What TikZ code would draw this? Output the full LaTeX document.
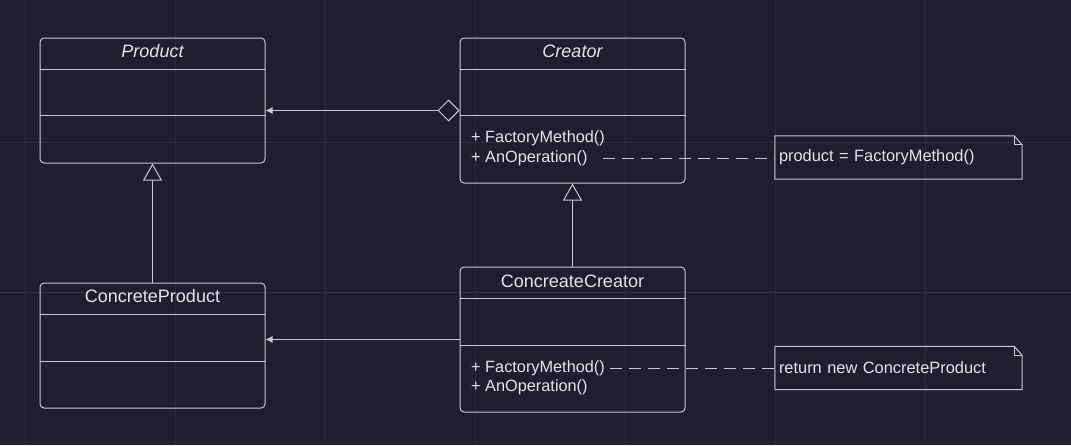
\documentclass[tikz,border=0pt]{standalone}
\usepackage{fontspec}
\setmainfont{Liberation Sans}
\usetikzlibrary{arrows.meta}
\definecolor{bgcol}{RGB}{30,30,46}
\definecolor{gridcol}{RGB}{44,44,58}
\definecolor{linecol}{RGB}{200,200,205}
\definecolor{txtcol}{RGB}{228,228,232}
\tikzset{>=Latex}
\tikzset{classbox/.style = {draw=linecol, line width=1pt, rounded corners=4pt, minimum width=225pt, inner sep=0pt},
         classname/.style = {text=txtcol, font=\fontsize{18}{21}\selectfont, inner sep=0pt},
         member/.style = {text=txtcol, font=\fontsize{16.3}{19}\selectfont, inner sep=0pt, anchor=west},
         notebox/.style = {text=txtcol, font=\fontsize{16.4}{19}\selectfont, minimum width=247pt, minimum height=43pt, text width=239pt, inner xsep=4pt, align=left},
         conn/.style = {draw=linecol, line width=1pt},
         noteline/.style = {draw=linecol, line width=1pt, dash pattern=on 12pt off 7pt}}

\begin{document}
\begin{tikzpicture}[x=1pt,y=-1pt]
                    \fill[bgcol] (0,0) rectangle (1071,445);
                    \useasboundingbox (0,0) rectangle (1071,445);
                    \foreach \x in {25,175,...,1075} \draw[gridcol] (\x,0) -- (\x,445);
                    \foreach \y in {142,292,442} \draw[gridcol] (0,\y) -- (1071,\y);

                    % classes
                    \node[classbox, minimum height=125pt] (P) at (152.5,100.5) {};
                    \node[classbox, minimum height=145pt] (C) at (572.5,110.5) {};
                    \node[classbox, minimum height=125pt] (CP) at (152.5,345.5) {};
                    \node[classbox, minimum height=145pt] (CC) at (572.5,339.5) {};

                    \node[classname] at ([yshift=-14pt]P.north) {\itshape Product};
                    \node[classname] at ([yshift=-14pt]C.north) {\itshape Creator};
                    \node[classname] at ([yshift=-14pt]CP.north) {ConcreteProduct};
                    \node[classname] at ([yshift=-15pt]CC.north) {ConcreateCreator};

                    \draw[conn] ([yshift=-32pt]P.north west) -- ([yshift=-32pt]P.north east);
                    \draw[conn] ([yshift=-78pt]P.north west) -- ([yshift=-78pt]P.north east);
                    \draw[conn] ([yshift=-32pt]C.north west) -- ([yshift=-32pt]C.north east);
                    \draw[conn] ([yshift=-78pt]C.north west) -- ([yshift=-78pt]C.north east);
                    \draw[conn] ([yshift=-32pt]CP.north west) -- ([yshift=-32pt]CP.north east);
                    \draw[conn] ([yshift=-79pt]CP.north west) -- ([yshift=-79pt]CP.north east);
                    \draw[conn] ([yshift=-32pt]CC.north west) -- ([yshift=-32pt]CC.north east);
                    \draw[conn] ([yshift=-79pt]CC.north west) -- ([yshift=-79pt]CC.north east);

                    \node[member] (cfm) at (471,138) {+ FactoryMethod()};
                    \node[member] (cao) at (471,158) {+ AnOperation()};
                    \node[member] (ccfm) at (471,368) {+ FactoryMethod()};
                    \node[member] (ccao) at (471,387) {+ AnOperation()};

                    % notes
                    \node[notebox] (n1) at (898.5,157.5) {product = FactoryMethod()};
                    \node[notebox] (n2) at (898.5,368) {return new ConcreteProduct};
                    \draw[conn] (n1.south west) -- (n1.north west) -- ([xshift=-8pt]n1.north east)
                                -- ([yshift=-9pt]n1.north east) -- (n1.south east) -- cycle;
                    \draw[conn] ([xshift=-8pt]n1.north east) -- ([xshift=-8pt,yshift=-9pt]n1.north east) -- ([yshift=-9pt]n1.north east);
                    \draw[conn] (n2.south west) -- (n2.north west) -- ([xshift=-8pt]n2.north east)
                                -- ([yshift=-9pt]n2.north east) -- (n2.south east) -- cycle;
                    \draw[conn] ([xshift=-8pt]n2.north east) -- ([xshift=-8pt,yshift=-9pt]n2.north east) -- ([yshift=-9pt]n2.north east);

                    % relations
                    \draw[conn, {Diamond[open,length=22pt,width=22pt]}-{Latex[length=7pt,width=7pt]}] (C.west) -- (C.west -| P.east);
                    \draw[conn, -{Latex[length=7pt,width=7pt]}] (CC.west) -- (CC.west -| CP.east);
                    \draw[conn, -{Triangle[open,length=17pt,width=19pt]}] (CP.north) -- (P.south);
                    \draw[conn, -{Triangle[open,length=17pt,width=19pt]}] (CC.north) -- (C.south);
                    \draw[noteline, shorten <=15pt] (cao.east) -- (cao.east -| n1.west);
                    \draw[noteline, shorten <=5pt] (ccfm.east) -- (ccfm.east -| n2.west);
                \end{tikzpicture}
\end{document}
